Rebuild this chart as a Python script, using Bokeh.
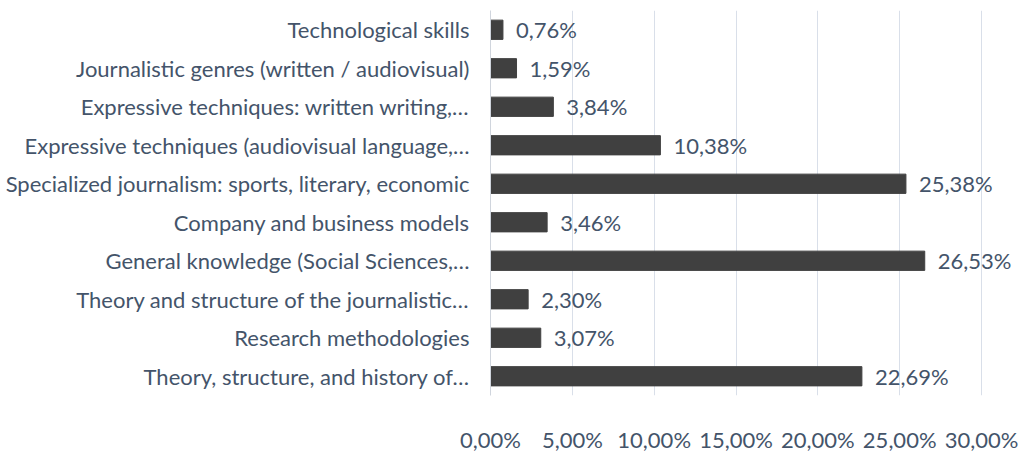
from bokeh.plotting import figure
from bokeh.models import ColumnDataSource, FactorRange, Range1d, FixedTicker, CustomJSTickFormatter
from bokeh.core.properties import value
from bokeh.embed import file_html
from bokeh.resources import INLINE

# categories listed top to bottom as in the chart
categories = [
    "Technological skills",
    "Journalistic genres (written / audiovisual)",
    "Expressive techniques: written writing,…",
    "Expressive techniques (audiovisual language,…",
    "Specialized journalism: sports, literary, economic",
    "Company and business models",
    "General knowledge (Social Sciences,…",
    "Theory and structure of the journalistic…",
    "Research methodologies",
    "Theory, structure, and history of…",
]
values = [0.76, 1.59, 3.84, 10.38, 25.38, 3.46, 26.53, 2.30, 3.07, 22.69]
x_ticks = [0, 5, 10, 15, 20, 25, 30]

labels = [("%.2f%%" % v).replace(".", ",") for v in values]
src = ColumnDataSource(dict(cat=categories, val=values, lab=labels))

FONT = "Lato"
FS = "22px"
TXT = "#44546A"

p = figure(width=1020, height=455, output_backend="svg", toolbar_location=None,
           y_range=FactorRange(*reversed(categories), range_padding=0),
           x_range=Range1d(0, 32.38))
p.min_border_left = 490
p.min_border_right = 0
p.min_border_top = 10
p.min_border_bottom = 47
p.outline_line_color = None
p.background_fill_color = "white"

p.hbar(y="cat", right="val", left=0, height=0.5, source=src,
       fill_color="#404040", line_color="#404040")
p.text(x="val", y="cat", text="lab", source=src, x_offset=13,
       text_font=value(FONT), text_font_size=FS, text_color=TXT,
       text_baseline="middle", text_align="left")

p.xaxis.ticker = FixedTicker(ticks=x_ticks)
p.xaxis.formatter = CustomJSTickFormatter(code="return tick.toFixed(2).replace('.', ',') + '%';")
p.xaxis.axis_line_color = None
p.xaxis.major_tick_line_color = None
p.xaxis.minor_tick_line_color = None
p.xaxis.major_label_standoff = 24
p.xaxis.major_label_text_font = FONT
p.xaxis.major_label_text_font_size = FS
p.xaxis.major_label_text_color = TXT

p.yaxis.axis_line_color = "#D0D5DD"
p.yaxis.major_tick_line_color = None
p.yaxis.minor_tick_line_color = None
p.yaxis.major_label_standoff = 15
p.yaxis.major_label_text_font = FONT
p.yaxis.major_label_text_font_size = FS
p.yaxis.major_label_text_color = TXT

p.xgrid.grid_line_color = "#D9DFE9"
p.xgrid.grid_line_width = 1
p.ygrid.grid_line_color = None

open("out.html", "w").write(file_html(p, INLINE))
